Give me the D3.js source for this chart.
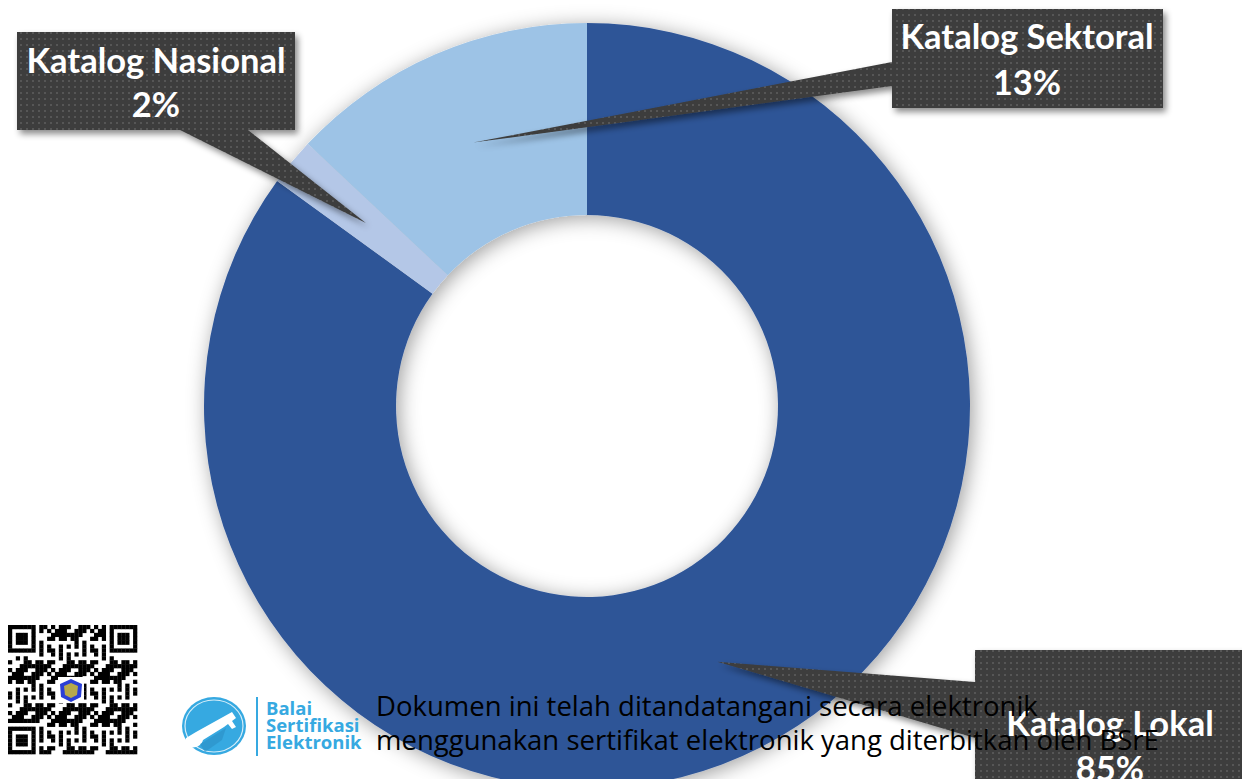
<!DOCTYPE html>
<html>
<head>
<meta charset="utf-8">
<script src="https://cdn.jsdelivr.net/npm/d3@7"></script>
<style>
  html, body { margin: 0; padding: 0; background: #fff; overflow: hidden; }
  svg { display: block; }
</style>
</head>
<body>
<div id="chart"></div>
<script>
// chart data
var categories = ["Katalog Lokal", "Katalog Nasional", "Katalog Sektoral"];
var shares = [85, 2, 13];
var percentLabels = ["85%", "2%", "13%"];
var sliceColors = ["#2F5597", "#B4C7E7", "#9DC3E6"];

// footer stamp text
var stampLines = [
    "Dokumen ini telah ditandatangani secara elektronik",
    "menggunakan sertifikat elektronik yang diterbitkan oleh BSrE"
];
var logoLines = ["Balai", "Sertifikasi", "Elektronik"];

var width = 1242, height = 779;
var cx = 587, cy = 406;
var outerR = 383, innerR = 191;

// callout boxes (layout only): box rect + side where the pointer leaves the box
var callouts = [
    {x: 975, y: 650, w: 300, h: 150, base: [[975, 682], [975, 738]], tx: 1110, ty: [736, 781]},
    {x: 17, y: 32, w: 278, h: 98, base: [[180, 130], [248, 130]], tx: 156, ty: [73, 117]},
    {x: 892, y: 9, w: 271, h: 99, base: [[892, 62], [892, 86]], tx: 1027, ty: [49, 95]}
];

var svg = d3.select("#chart").append("svg")
    .attr("width", width)
    .attr("height", height);

var defs = svg.append("defs");

// soft shadow under the ring
var ringShadow = defs.append("filter")
    .attr("id", "ringShadow")
    .attr("x", "-20%").attr("y", "-20%")
    .attr("width", "140%").attr("height", "140%");
ringShadow.append("feDropShadow")
    .attr("dx", 3).attr("dy", 3)
    .attr("stdDeviation", 10)
    .attr("flood-color", "#000")
    .attr("flood-opacity", 0.38);

var boxShadow = defs.append("filter")
    .attr("id", "boxShadow")
    .attr("x", "-10%").attr("y", "-10%")
    .attr("width", "130%").attr("height", "130%");
boxShadow.append("feDropShadow")
    .attr("dx", 3).attr("dy", 4)
    .attr("stdDeviation", 3)
    .attr("flood-color", "#000")
    .attr("flood-opacity", 0.45);

// dotted texture of the callouts
var dots = defs.append("pattern")
    .attr("id", "dots")
    .attr("patternUnits", "userSpaceOnUse")
    .attr("width", 6).attr("height", 6);
dots.append("rect").attr("width", 6).attr("height", 6).attr("fill", "#3d3d3d");
dots.append("rect").attr("x", 2).attr("y", 2).attr("width", 2).attr("height", 2).attr("fill", "#575757");

// donut
var pie = d3.pie()
    .sort(null)
    .value(function(d) { return d; });

var arc = d3.arc()
    .innerRadius(innerR)
    .outerRadius(outerR);

var arcs = pie(shares);

var ring = svg.append("g")
    .attr("transform", "translate(" + cx + "," + cy + ")")
    .attr("filter", "url(#ringShadow)");

ring.selectAll("path")
    .data(arcs)
    .enter().append("path")
    .attr("d", arc)
    .attr("fill", function(d, i) { return sliceColors[i]; });

// callouts: box + wedge pointing to the slice centroid
var callG = svg.append("g");

arcs.forEach(function(a, i) {
    var c = callouts[i];
    var tip = arc.centroid(a);
    var tipX = tip[0] + cx, tipY = tip[1] + cy;

    var p = d3.path();
    p.rect(c.x, c.y, c.w, c.h);
    p.moveTo(c.base[0][0], c.base[0][1]);
    p.lineTo(tipX, tipY);
    p.lineTo(c.base[1][0], c.base[1][1]);
    p.closePath();

    var g = callG.append("g");
    g.append("path")
        .attr("d", p.toString())
        .attr("fill", "url(#dots)")
        .attr("filter", "url(#boxShadow)");

    g.selectAll("text")
        .data([categories[i], percentLabels[i]])
        .enter().append("text")
        .attr("x", c.tx)
        .attr("y", function(d, j) { return c.ty[j]; })
        .attr("text-anchor", "middle")
        .style("font-family", "Lato, 'Open Sans', sans-serif")
        .style("font-weight", "bold")
        .style("font-size", "34.5px")
        .style("fill", "#fff")
        .text(function(d) { return d; });
});

// ---- footer stamp (QR, BSrE logo, note) ----
var stamp = svg.append("g");

// QR-like block
var qrN = 33, qrX = 8, qrY = 625, qrSize = 129;
var cell = qrSize / qrN;
var qr = stamp.append("g");
qr.append("rect").attr("x", qrX).attr("y", qrY).attr("width", qrSize).attr("height", qrSize).attr("fill", "#fff");

function inFinder(x, y) {
    var spots = [[0, 0], [qrN - 7, 0], [0, qrN - 7]];
    for (var k = 0; k < spots.length; k++) {
        var fx = x - spots[k][0], fy = y - spots[k][1];
        if (fx >= -1 && fx <= 7 && fy >= -1 && fy <= 7) {
            if (fx < 0 || fy < 0 || fx > 6 || fy > 6) return 0;
            if (fx === 0 || fy === 0 || fx === 6 || fy === 6) return 1;
            if (fx >= 2 && fx <= 4 && fy >= 2 && fy <= 4) return 1;
            return 0;
        }
    }
    return -1;
}
for (var y = 0; y < qrN; y++) {
    for (var x = 0; x < qrN; x++) {
        var f = inFinder(x, y);
        var on = f === -1 ? (((x * x * 31 + y * 17 + x * y * 7 + y * y * 3) % 11) < 5) : f === 1;
        if (on) {
            qr.append("rect")
                .attr("x", qrX + x * cell)
                .attr("y", qrY + y * cell)
                .attr("width", cell + 0.3)
                .attr("height", cell + 0.3)
                .attr("fill", "#000");
        }
    }
}
// emblem in the middle of the QR
qr.append("rect").attr("x", 58).attr("y", 677).attr("width", 26).attr("height", 26).attr("fill", "#fff");
qr.append("path")
    .attr("d", "M71,679 L82,684 L81,697 L71,702 L61,697 L60,684 Z")
    .attr("fill", "#2a3fd6");
qr.append("path")
    .attr("d", "M71,683 L78,686 L77,695 L71,698 L65,695 L64,686 Z")
    .attr("fill", "#b7a94a");

// BSrE logo
var logo = stamp.append("g");
logo.append("ellipse").attr("cx", 214).attr("cy", 726).attr("rx", 32).attr("ry", 29).attr("fill", "#36a9e1");
logo.append("ellipse").attr("cx", 214).attr("cy", 726).attr("rx", 29).attr("ry", 26)
    .attr("fill", "none").attr("stroke", "#fff").attr("stroke-width", 1.2).attr("opacity", 0.8);
logo.append("path")
    .attr("d", "M186,738 L196,732 L232,712 L236,718 L232,721 L236,727 L232,729 L228,724 L224,727 L203,740 C201,748 190,750 186,744 Z")
    .attr("fill", "#fff");
logo.append("path")
    .attr("d", "M200,744 L226,728 L222,740 L205,752 Z")
    .attr("fill", "#2b8fc4").attr("opacity", 0.6);
logo.append("line")
    .attr("x1", 257).attr("x2", 257).attr("y1", 697).attr("y2", 756)
    .attr("stroke", "#36a9e1").attr("stroke-width", 2);
logo.selectAll("text.logo")
    .data(logoLines)
    .enter().append("text")
    .attr("class", "logo")
    .attr("x", 266)
    .attr("y", function(d, i) { return 715 + i * 17; })
    .style("font-family", "'Open Sans', sans-serif")
    .style("font-weight", "bold")
    .style("font-size", "18.5px")
    .style("fill", "#36a9e1")
    .text(function(d) { return d; });

stamp.selectAll("text.note")
    .data(stampLines)
    .enter().append("text")
    .attr("class", "note")
    .attr("x", 376)
    .attr("y", function(d, i) { return 716 + i * 34; })
    .style("font-family", "'Open Sans', sans-serif")
    .style("font-size", "27.5px")
    .style("fill", "#000")
    .text(function(d) { return d; });
</script>
</body>
</html>
